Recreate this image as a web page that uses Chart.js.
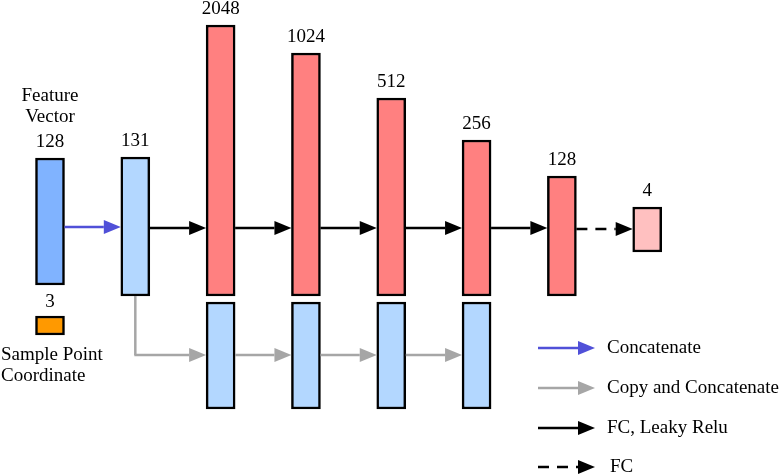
<!DOCTYPE html>
<html>
<head>
<meta charset="utf-8">
<script src="https://cdn.jsdelivr.net/npm/chart.js@4/dist/chart.umd.min.js"></script>
<style>
  html, body { margin: 0; padding: 0; background: #fff; }
  #wrap { position: relative; width: 782px; height: 476px; }
</style>
</head>
<body>
<div id="wrap"><canvas id="net"></canvas></div>
<script>
// layer sizes shown above each column (column index = position in list)
const layerSizes = ['128', '131', '2048', '1024', '512', '256', '128', '4'];
// bar extents per column, in diagram units (0 = bottom of the main row)
const mainLow  = [11, 0, 0, 0, 0, 0, 0, 44];
const mainHigh = [138, 139, 271, 243, 198, 156, 120, 89];
const mainColors = ['#80b3ff', '#b3d7ff', '#ff8080', '#ff8080', '#ff8080', '#ff8080', '#ff8080', '#ffc0c0'];

// copied (skip) blocks under the FC layers
const skipCols = [2, 3, 4, 5];
const skipLow  = [-113, -113, -113, -113];
const skipHigh = [-6, -6, -6, -6];

// sample point coordinate block (size 3) under the feature vector
const coordCols = [0];
const coordLow  = [-39];
const coordHigh = [-20];

// connection levels
const fcLevel = 68;
const copyLevel = -59;

const legendLabels = ['Concatenate', 'Copy and Concatenate', 'FC, Leaky Relu', 'FC'];
const legendColors = ['#5050d8', '#a6a6a6', '#000000', '#000000'];
const legendDashed = [false, false, false, true];

const FONT = '19px "Liberation Serif", "Times New Roman", serif';
const BAR_W = 29;

function arrow(ctx, x1, y1, x2, y2, color, lw, dashed) {
  const head = 17, half = 7;
  ctx.save();
  ctx.strokeStyle = color;
  ctx.fillStyle = color;
  ctx.lineWidth = lw;
  if (dashed) ctx.setLineDash([11, 8]);
  ctx.beginPath();
  ctx.moveTo(x1, y1);
  ctx.lineTo(x2 - head, y2);
  ctx.stroke();
  ctx.setLineDash([]);
  ctx.beginPath();
  ctx.moveTo(x2, y2);
  ctx.lineTo(x2 - head, y2 - half);
  ctx.lineTo(x2 - head, y2 + half);
  ctx.closePath();
  ctx.fill();
  ctx.restore();
}

const overlay = {
  id: 'overlay',
  afterDatasetsDraw(chart) {
    const ctx = chart.ctx;
    const xs = chart.scales.x, ys = chart.scales.y;
    const cx = i => xs.getPixelForValue(i);
    const half = BAR_W / 2;

    // labels above columns
    ctx.save();
    ctx.font = FONT;
    ctx.fillStyle = '#000';
    ctx.textAlign = 'center';
    ctx.textBaseline = 'middle';
    layerSizes.forEach((s, i) => {
      ctx.fillText(s, cx(i), ys.getPixelForValue(mainHigh[i]) - 16);
    });
    ctx.fillText('Feature', cx(0), 96);
    ctx.fillText('Vector', cx(0), 117);
    ctx.fillText('3', cx(0), ys.getPixelForValue(coordHigh[0]) - 14);
    ctx.textAlign = 'left';
    ctx.fillText('Sample Point', 1, 355);
    ctx.fillText('Coordinate', 1, 376);
    ctx.restore();

    // concatenate arrow
    const yFc = ys.getPixelForValue(fcLevel);
    arrow(ctx, cx(0) + half, yFc - 1, cx(1) - half, yFc - 1, legendColors[0], 2.5, false);
    // FC arrows
    for (let i = 1; i < 6; i++) {
      arrow(ctx, cx(i) + half, yFc, cx(i + 1) - half, yFc, '#000', 2.5, false);
    }
    arrow(ctx, cx(6) + half, yFc + 1, cx(7) - half, yFc + 1, '#000', 2.5, true);

    // copy path
    const yCp = ys.getPixelForValue(copyLevel);
    ctx.save();
    ctx.strokeStyle = legendColors[1];
    ctx.lineWidth = 2.5;
    ctx.beginPath();
    ctx.moveTo(cx(1), ys.getPixelForValue(0));
    ctx.lineTo(cx(1), yCp);
    ctx.stroke();
    ctx.restore();
    arrow(ctx, cx(1) - 1, yCp, cx(2) - half, yCp, legendColors[1], 2.5, false);
    for (let i = 2; i < 5; i++) {
      arrow(ctx, cx(i) + half, yCp, cx(i + 1) - half, yCp, legendColors[1], 2.5, false);
    }

    // legend
    const legY = [348, 388, 428, 467];
    legendLabels.forEach((lab, k) => {
      arrow(ctx, 538, legY[k], 595, legY[k], legendColors[k], 2.5, legendDashed[k]);
      ctx.save();
      ctx.font = FONT;
      ctx.fillStyle = '#000';
      ctx.textBaseline = 'middle';
      ctx.fillText(lab, k === 3 ? 610 : 607, legY[k]);
      ctx.restore();
    });
  }
};

const barStyle = {
  borderColor: '#000',
  borderWidth: 2.5,
  borderSkipped: false,
  barThickness: BAR_W,
  grouped: false
};

new Chart(document.getElementById('net'), {
  type: 'bar',
  data: {
    datasets: [
      Object.assign({
        label: 'layers',
        data: layerSizes.map((s, i) => ({ x: i, y: [mainLow[i], mainHigh[i]] })),
        backgroundColor: mainColors
      }, barStyle),
      Object.assign({
        label: 'copies',
        data: skipCols.map((c, k) => ({ x: c, y: [skipLow[k], skipHigh[k]] })),
        backgroundColor: '#b3d7ff'
      }, barStyle),
      Object.assign({
        label: 'coordinate',
        data: coordCols.map((c, k) => ({ x: c, y: [coordLow[k], coordHigh[k]] })),
        backgroundColor: '#ff9900'
      }, barStyle)
    ]
  },
  options: {
    responsive: true,
    maintainAspectRatio: false,
    animation: false,
    layout: { padding: 0 },
    plugins: { legend: { display: false }, tooltip: { enabled: false } },
    scales: {
      x: { type: 'linear', offset: false, min: -0.586, max: 8.58, display: false },
      y: { type: 'linear', min: -180, max: 296, display: false }
    }
  },
  plugins: [overlay]
});
</script>
</body>
</html>
